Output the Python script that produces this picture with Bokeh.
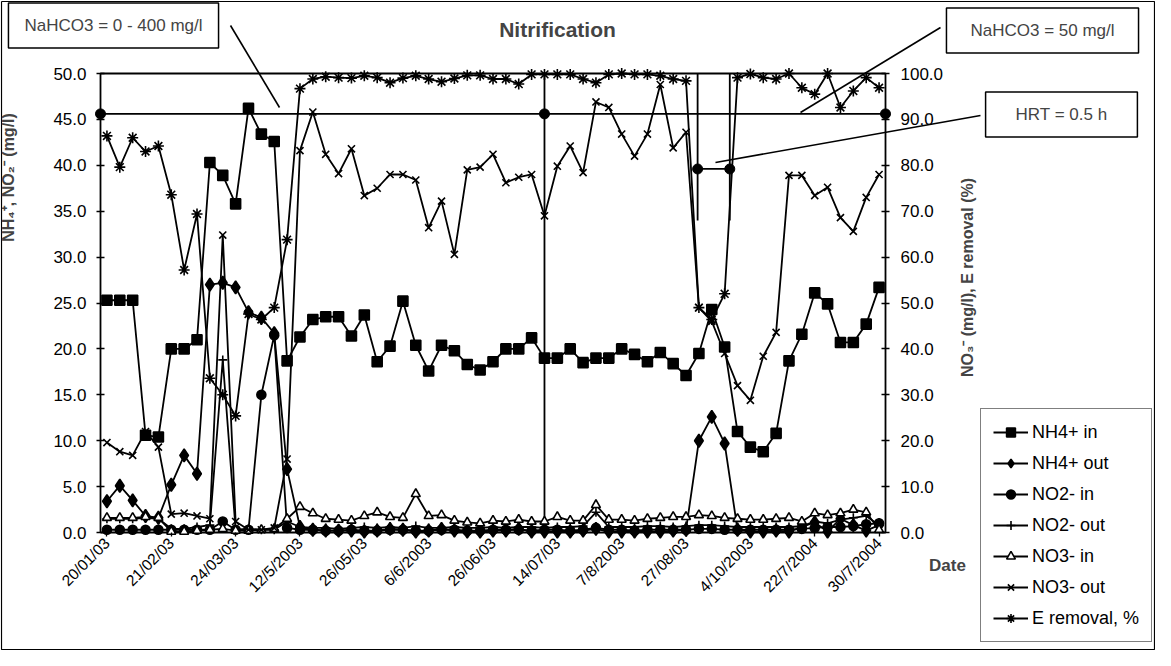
import math
from bokeh.plotting import figure
from bokeh.models import (Range1d, LinearAxis, FixedTicker, PrintfTickFormatter,
                          Label, Legend, LegendItem, ColumnDataSource)
from bokeh.embed import file_html
from bokeh.resources import INLINE

# ---------------- data ----------------
date_labels = ["20/01/03", "21/02/03", "24/03/03", "12/5/2003", "26/05/03", "6/6/2003",
               "26/06/03", "14/07/03", "7/8/2003", "27/08/03", "4/10/2003", "22/7/2004", "30/7/2004"]
label_every = 5
sample_no = list(range(61))

nh4_in = [25.3, 25.3, 25.3, 10.6, 10.4, 20.0, 20.0, 21.0, 40.3, 38.9, 35.8, 46.2, 43.4, 42.6, 18.7,
          21.3, 23.2, 23.5, 23.5, 21.4, 23.7, 18.6, 20.3, 25.2, 20.4, 17.6, 20.4, 19.8, 18.3, 17.7,
          18.6, 20.0, 20.0, 21.2, 19.0, 19.0, 20.0, 18.5, 19.0, 19.0, 20.0, 19.4, 18.6, 19.6, 18.4,
          17.1, 19.5, 24.3, 20.2, 11.0, 9.3, 8.8, 10.8, 18.7, 21.6, 26.1, 24.9, 20.7, 20.7, 22.7, 26.7]
nh4_out = [3.4, 5.1, 3.5, 1.8, 1.6, 5.2, 8.4, 6.4, 27.0, 27.2, 26.7, 24.0, 23.4, 21.7, 6.9,
           0.6, 0.3, 0.2, 0.2, 0.2, 0.1, 0.2, 0.4, 0.3, 0.1, 0.2, 0.4, 0.2, 0.1, 0.1,
           0.2, 0.2, 0.4, 0.1, 0.1, 0.1, 0.1, 0.2, 0.4, 0.1, 0.1, 0.1, 0.1, 0.1, 0.2,
           0.3, 10.0, 12.6, 9.7, 0.3, 0.1, 0.1, 0.2, 0.1, 0.6, 1.1, 0.1, 1.5, 0.8, 0.2, 0.8]
no2_in = [0.3, 0.3, 0.3, 0.3, 0.3, 0.3, 0.3, 0.3, 0.3, 1.2, 0.3, 0.3, 15.0, 21.5, 0.5,
          0.3, 0.3, 0.2, 0.2, 0.3, 0.2, 0.2, 0.3, 0.3, 0.2, 0.2, 0.3, 0.3, 0.2, 0.2,
          0.3, 0.3, 0.3, 0.2, 0.3, 0.3, 0.2, 0.3, 0.5, 0.3, 0.3, 0.2, 0.3, 0.3, 0.3,
          0.3, 0.4, 0.4, 0.3, 0.3, 0.3, 0.3, 0.3, 0.3, 0.4, 0.5, 0.6, 0.6, 0.7, 0.9, 1.0]
no2_out = [1.5, 1.5, 1.5, 1.6, 1.5, 0.4, 0.4, 0.6, 0.8, 18.8, 0.3, 0.4, 0.3, 0.3, 1.2,
           0.6, 0.5, 0.5, 0.4, 0.5, 0.6, 0.5, 0.6, 0.5, 0.7, 0.5, 0.5, 0.6, 0.5, 0.5,
           0.6, 0.5, 0.6, 0.6, 0.5, 0.6, 0.6, 0.7, 2.2, 0.6, 0.6, 0.6, 0.7, 0.7, 0.6,
           0.7, 0.8, 0.8, 0.7, 0.6, 0.6, 0.6, 0.6, 0.6, 0.7, 1.2, 1.0, 1.4, 1.6, 1.8, 0.8]
no3_in = [3.2, 3.2, 3.2, 3.4, 3.2, 0.2, 0.2, 0.4, 0.6, 0.8, 0.4, 0.4, 0.6, 0.8, 3.0,
          5.6, 4.2, 3.0, 2.8, 2.6, 3.6, 4.4, 3.4, 3.2, 8.4, 3.6, 3.8, 2.6, 2.2, 2.0,
          2.6, 2.4, 2.8, 2.4, 2.4, 3.4, 2.6, 2.6, 6.0, 2.8, 2.8, 2.6, 3.0, 3.2, 3.4,
          3.4, 3.8, 3.6, 3.2, 3.0, 2.8, 2.8, 3.0, 3.2, 2.4, 4.2, 3.8, 4.2, 5.0, 4.4, 0.6]
no3_out = [19.6, 17.6, 16.8, 22.0, 18.6, 4.0, 4.2, 3.6, 3.0, 64.8, 2.4, 0.6, 0.6, 1.0, 16.0,
           83.2, 91.6, 82.4, 78.2, 83.6, 73.4, 75.0, 78.0, 78.0, 76.8, 66.4, 72.2, 60.6, 79.0, 79.6,
           82.4, 76.2, 77.4, 78.0, 69.0, 79.8, 84.2, 78.4, 93.8, 92.6, 86.8, 82.0, 86.8, 97.6, 83.8,
           87.2, 49.0, 46.0, 39.0, 32.0, 28.8, 38.4, 43.6, 77.8, 77.8, 73.4, 75.2, 68.6, 65.6, 73.0, 78.0]
e_removal = [86.4, 79.6, 86.0, 83.0, 84.2, 73.6, 57.2, 69.4, 33.6, 30.0, 25.4, 47.6, 46.4, 49.0, 63.8,
             96.7, 98.8, 99.3, 99.1, 99.0, 99.5, 99.1, 98.0, 99.0, 99.5, 98.8, 98.2, 98.9, 99.6, 99.6,
             98.8, 98.8, 97.7, 99.8, 99.8, 99.8, 99.8, 98.8, 98.0, 99.8, 100.0, 99.8, 99.8, 99.5, 98.8,
             98.4, 49.0, 46.4, 52.0, 99.1, 99.9, 99.1, 98.8, 100.0, 96.9, 95.5, 100.0, 92.6, 96.2, 99.1, 96.9]

# annotation brackets (category position, value in mg/l)
marker_level = 45.6
split_cat = 34
hrt_level = 39.6
hrt_from, hrt_to = 46.4, 48.9

# ---------------- geometry ----------------
N = len(sample_no)
W, H = 1155, 650
PX_L, PX_R, PX_T, PX_B = 108, 893, 81, 540  # page pixels of plot area


def fx(px):
    return (px - PX_L) / (PX_R - PX_L) * N


def fy(py):
    return (PX_B - py) / (PX_B - PX_T) * 50.0


FONT = "Liberation Sans"
LW = 1.8

p = figure(width=W, height=H, x_range=Range1d(fx(8), fx(8 + W)), y_range=Range1d(fy(8 + H), fy(8)),
           output_backend="svg", toolbar_location=None, title=None, min_border=0,
           x_axis_location="below", y_axis_location="left")
p.extra_y_ranges = {"right": Range1d(2 * fy(8 + H), 2 * fy(8))}
p.xgrid.visible = False
p.ygrid.visible = False
p.outline_line_color = None
p.background_fill_color = "white"
p.border_fill_color = "white"

xs = [i + 0.5 for i in sample_no]

# chart-area border
bx = [fx(9), fx(7 + W), fx(7 + W), fx(9), fx(9)]
by = [fy(9), fy(9), fy(7 + H), fy(7 + H), fy(9)]
p.line(bx, by, line_color="black", line_width=1.2)

# x axis
xa = p.xaxis[0]
xa.fixed_location = 0
xa.ticker = FixedTicker(ticks=[i * label_every + 0.5 for i in range(len(date_labels))])
xa.major_label_overrides = {i * label_every + 0.5: d for i, d in enumerate(date_labels)}
xa.major_label_orientation = math.pi / 4
xa.major_label_text_font = FONT
xa.major_label_text_font_size = "15.5px"
xa.major_label_text_color = "black"
xa.major_tick_in = 0
xa.major_tick_out = 4
xa.major_tick_line_width = 1.3
xa.minor_tick_line_color = None
xa.axis_line_color = None
xa.major_label_standoff = 4

# left axis
ya = p.yaxis[0]
ya.fixed_location = 0
ya.ticker = FixedTicker(ticks=[v * 5 for v in range(11)])
ya.formatter = PrintfTickFormatter(format="%.1f")
ya.major_tick_in = 4
ya.major_tick_out = 4
ya.major_tick_line_width = 1.3
ya.minor_tick_line_color = None
ya.axis_line_color = None
ya.major_label_text_font = FONT
ya.major_label_text_font_size = "17px"
ya.major_label_text_color = "black"
ya.major_label_standoff = 10

# right axis
ra = LinearAxis(y_range_name="right", ticker=FixedTicker(ticks=[v * 10 for v in range(11)]),
                formatter=PrintfTickFormatter(format="%.1f"), fixed_location=N)
ra.major_tick_in = 4
ra.major_tick_out = 4
ra.major_tick_line_width = 1.3
ra.minor_tick_line_color = None
ra.axis_line_color = None
ra.major_label_text_font = FONT
ra.major_label_text_font_size = "17px"
ra.major_label_text_color = "black"
ra.major_label_standoff = 11
p.add_layout(ra, "right")

# plot-area frame
p.line([0, N, N, 0, 0], [0, 0, 50, 50, 0], line_color="black", line_width=LW)

# annotation lines (inside plot)
p.line([0, N], [marker_level, marker_level], line_color="black", line_width=LW)
p.line([split_cat + 0.5, split_cat + 0.5], [0, 50], line_color="black", line_width=LW)
p.scatter([0, split_cat + 0.5, N], [marker_level] * 3, marker="circle", size=10,
          fill_color="black", line_color="black")
p.line([hrt_from, hrt_from], [50, 34], line_color="black", line_width=LW)
p.line([hrt_to, hrt_to], [50, 34], line_color="black", line_width=LW)
p.line([hrt_from, hrt_to], [hrt_level, hrt_level], line_color="black", line_width=LW)
p.scatter([hrt_from, hrt_to], [hrt_level] * 2, marker="circle", size=10,
          fill_color="black", line_color="black")

# series
series = [
    ("NH4+ in", nh4_in, "default", "square", 10, "black"),
    ("NH4+ out", nh4_out, "default", "diamond", 13, "black"),
    ("NO2- in", no2_in, "default", "circle", 9, "black"),
    ("NO2- out", no2_out, "default", "cross", 9, "black"),
    ("NO3- in", no3_in, "right", "triangle", 9, "white"),
    ("NO3- out", no3_out, "right", "x", 10, None),
    ("E removal, %", e_removal, "right", "asterisk", 11, None),
]
items = []
for name, vals, rng, mk, sz, fill in series:
    src = ColumnDataSource(dict(x=xs, y=vals))
    lr = p.line("x", "y", source=src, line_color="black", line_width=LW, y_range_name=rng)
    sr = p.scatter("x", "y", source=src, marker=mk, size=sz, fill_color=fill,
                   line_color="black", line_width=1.6, y_range_name=rng)
    items.append(LegendItem(label=name, renderers=[lr, sr]))

legend = Legend(items=items, location=(980, 8), border_line_color="black",
                border_line_width=1, background_fill_color="white", background_fill_alpha=1,
                label_text_font=FONT, label_text_font_size="18px", label_text_color="black",
                glyph_width=35, glyph_height=22, label_height=22, spacing=9, padding=12,
                label_standoff=4, margin=0)
p.add_layout(legend, "center")

# texts
p.add_layout(Label(x=fx(565), y=fy(37), text="Nitrification", text_align="center",
                   text_baseline="middle", text_font=FONT, text_font_style="bold",
                   text_font_size="21px"))
p.add_layout(Label(x=fx(16), y=fy(185), text="NH\u2084\u207a, NO\u2082\u207b (mg/l)",
                   angle=math.pi / 2, text_align="center", text_baseline="middle",
                   text_font=FONT, text_font_style="bold", text_font_size="16px"))
p.add_layout(Label(x=fx(975), y=fy(285), text="NO\u2083\u207b (mg/l), E removal (%)",
                   angle=math.pi / 2, text_align="center", text_baseline="middle",
                   text_font=FONT, text_font_style="bold", text_font_size="16px"))
p.add_layout(Label(x=fx(955), y=fy(573), text="Date", text_align="center",
                   text_baseline="middle", text_font=FONT, text_font_style="bold",
                   text_font_size="17px"))

for cx, cy, txt, padx in [(121, 33, "NaHCO3 = 0 - 400 mg/l", 16), (1050, 38, "NaHCO3 = 50 mg/l", 24),
                          (1069, 122, "HRT = 0.5 h", 30)]:
    p.add_layout(Label(x=fx(cx), y=fy(cy), text=txt, text_align="center", text_baseline="middle",
                       text_font=FONT, text_font_size="17px", background_fill_color="white",
                       border_line_color="black", border_line_width=1.5, padding=(padx, 13)))

# callout lines
for (x0, y0, x1, y1) in [(238, 33, 287, 115), (948, 35, 808, 120), (988, 123, 723, 170)]:
    p.line([fx(x0), fx(x1)], [fy(y0), fy(y1)], line_color="black", line_width=1.6)

open("out.html", "w").write(file_html(p, INLINE))
